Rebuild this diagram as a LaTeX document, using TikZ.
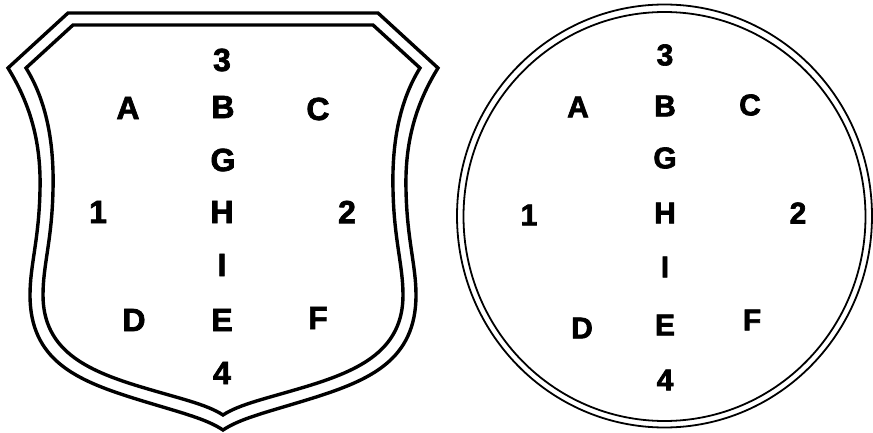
\documentclass[tikz,border=0pt]{standalone}
\usepackage{fontspec}
\setmainfont{Liberation Sans}
\newfontfamily\heavyfont[FakeBold=2.2]{Liberation Sans Bold}
\begin{document}
\begin{tikzpicture}[x=1pt,y=-1pt,
  shieldline/.style={line width=3.4pt,line join=miter,black},
  ringline/.style={line width=1.8pt,black},
  lblS/.style={inner sep=0pt,font=\heavyfont\fontsize{32}{32}\selectfont},
  lblC/.style={inner sep=0pt,font=\heavyfont\fontsize{30}{30}\selectfont}]
\useasboundingbox (0,0) rectangle (873,433);
% shield outer
\draw[shieldline] (68,13) -- (378,13) -- (438,68)
  .. controls (412,110) and (405,150) .. (406,190)
  .. controls (407,240) and (416,265) .. (416,295)
  .. controls (416,360) and (370,380) .. (313,398)
  .. controls (268,412) and (241,418) .. (223,430)
  .. controls (205,418) and (178,412) .. (133,398)
  .. controls (76,380) and (30,360) .. (30,295)
  .. controls (30,265) and (39,240) .. (40,190)
  .. controls (41,150) and (34,110) .. (8,68) -- cycle;
% shield inner
\draw[shieldline] (73,25) -- (373,25) -- (420,68)
  .. controls (397,105) and (392,150) .. (393,190)
  .. controls (394,240) and (403,265) .. (403,295)
  .. controls (403,350) and (360,370) .. (308,386)
  .. controls (265,399) and (240,404) .. (223,415)
  .. controls (206,404) and (181,399) .. (138,386)
  .. controls (86,370) and (43,350) .. (43,295)
  .. controls (43,265) and (52,240) .. (53,190)
  .. controls (54,150) and (49,105) .. (26,68) -- cycle;
% circle
\draw[ringline] (664.5,216) ellipse [x radius=207.5, y radius=211.5];
\draw[ringline] (664.5,216.5) ellipse [x radius=201, y radius=204.5];
% shield labels
\node[lblS] (s3) at (222,60) {3};
\node[lblS] (sA) at (128,108) {A};
\node[lblS] (sB) at (223,107) {B};
\node[lblS] (sC) at (318,109) {C};
\node[lblS] (sG) at (223,160) {G};
\node[lblS] (s1) at (98,212) {1};
\node[lblS] (sH) at (222,212) {H};
\node[lblS] (s2) at (347,212) {2};
\node[lblS] (sI) at (222,265) {I};
\node[lblS] (sD) at (134,320) {D};
\node[lblS] (sE) at (222,320) {E};
\node[lblS] (sF) at (318,318) {F};
\node[lblS] (s4) at (222,373) {4};
% circle labels
\node[lblC] (c3) at (665,55) {3};
\node[lblC] (cA) at (578,107) {A};
\node[lblC] (cB) at (665,106) {B};
\node[lblC] (cC) at (750,105) {C};
\node[lblC] (cG) at (665,158) {G};
\node[lblC] (c1) at (529,215) {1};
\node[lblC] (cH) at (665,213) {H};
\node[lblC] (c2) at (798,213) {2};
\node[lblC] (cI) at (665,267) {I};
\node[lblC] (cD) at (582,328) {D};
\node[lblC] (cE) at (665,325) {E};
\node[lblC] (cF) at (752,320) {F};
\node[lblC] (c4) at (665,380) {4};
\end{tikzpicture}
\end{document}
